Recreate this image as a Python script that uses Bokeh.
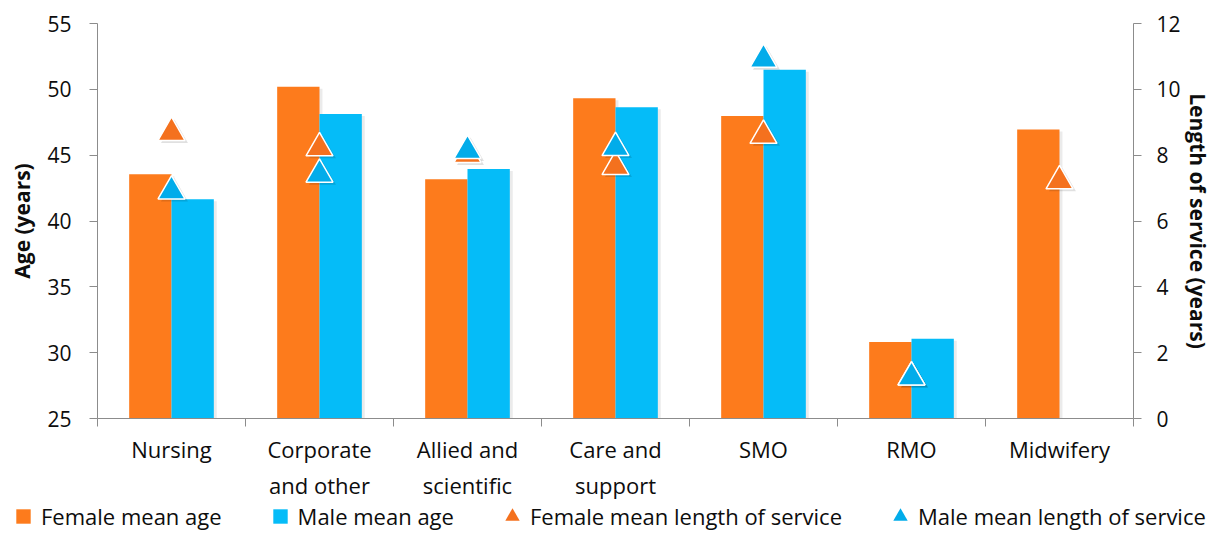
import math
from bokeh.plotting import figure
from bokeh.layouts import column
from bokeh.models import (Range1d, LinearAxis, FixedTicker, ColumnDataSource,
                          Legend, LegendItem)
from bokeh.transform import dodge
from bokeh.embed import file_html
from bokeh.resources import INLINE

nan = float("nan")

# ---------------- data ----------------
categories = ["Nursing", "Corporate\nand other", "Allied and\nscientific",
              "Care and\nsupport", "SMO", "RMO", "Midwifery"]
female_age = [43.55, 50.19, 43.18, 49.32, 47.97, 30.81, 46.94]
male_age = [41.65, 48.13, 43.95, 48.63, 51.48, 31.05, nan]
female_los = [8.80, 8.33, 8.13, 7.76, 8.71, 1.37, 7.33]
male_los = [7.02, 7.53, 8.25, 8.34, 11.02, 1.37, nan]
age_ticks = [25, 30, 35, 40, 45, 50, 55]
los_ticks = [0, 2, 4, 6, 8, 10, 12]
series_labels = ["Female mean age", "Male mean age",
                 "Female mean length of service", "Male mean length of service"]

# ---------------- styles ----------------
FONT = "Open Sans"
ORANGE = "#FD7B1C"
CYAN = "#05BCF8"
ORANGE_T = "#F4711E"
CYAN_T = "#02ACEA"
AXIS = "#8C8C8C"
TXT = "#0D0D0D"
BW = 0.286

xpos = [i + 0.5 for i in range(len(categories))]
src = ColumnDataSource(dict(x=xpos, f_age=female_age, m_age=male_age,
                            f_los=female_los, m_los=male_los))

p = figure(width=1214, height=502,
           x_range=Range1d(0, len(categories)),
           y_range=Range1d(age_ticks[0], age_ticks[-1]),
           x_axis_type=None, y_axis_type=None,
           output_backend="svg", toolbar_location=None,
           min_border_left=97, min_border_right=79,
           min_border_top=23, min_border_bottom=84,
           outline_line_color=None, frame_align=False)
p.extra_y_ranges = {"los": Range1d(los_ticks[0], los_ticks[-1])}

# shadows
p.vbar(x=dodge("x", -BW / 2 + 0.02), top=dodge("f_age", -0.15),
       bottom=age_ticks[0], width=BW, source=src,
       fill_color="black", fill_alpha=0.08, line_color=None)
p.vbar(x=dodge("x", BW / 2 + 0.02), top=dodge("m_age", -0.15),
       bottom=age_ticks[0], width=BW, source=src,
       fill_color="black", fill_alpha=0.08, line_color=None)

p.vbar(x=dodge("x", -BW / 2), top="f_age", bottom=age_ticks[0],
       width=BW, source=src, fill_color=ORANGE, line_color=None)
p.vbar(x=dodge("x", BW / 2), top="m_age", bottom=age_ticks[0],
       width=BW, source=src, fill_color=CYAN, line_color=None)

# triangle shadows
p.scatter(x=dodge("x", 0.02), y=dodge("f_los", -0.19), y_range_name="los",
          source=src, marker="triangle", size=27, fill_color="black",
          fill_alpha=0.12, line_color=None)
p.scatter(x=dodge("x", 0.02), y=dodge("m_los", -0.19), y_range_name="los",
          source=src, marker="triangle", size=27, fill_color="black",
          fill_alpha=0.12, line_color=None)

p.scatter(x="x", y=dodge("f_los", -0.114), y_range_name="los", source=src,
          marker="triangle", size=27, fill_color=ORANGE_T,
          line_color="white", line_width=1.5)
p.scatter(x="x", y=dodge("m_los", -0.114), y_range_name="los", source=src,
          marker="triangle", size=27, fill_color=CYAN_T,
          line_color="white", line_width=1.5)

# ---------------- axes ----------------
def style_axis(ax, label_size="21px"):
    ax.axis_line_color = AXIS
    ax.major_tick_line_color = AXIS
    ax.minor_tick_line_color = AXIS
    ax.major_tick_out = 8
    ax.major_tick_in = 0
    ax.minor_tick_out = 0
    ax.minor_tick_in = 0
    ax.major_label_text_font = FONT
    ax.major_label_text_font_size = label_size
    ax.major_label_text_color = TXT
    ax.axis_label_text_font = FONT
    ax.axis_label_text_font_style = "bold"
    ax.axis_label_text_font_size = "21px"
    ax.axis_label_text_color = TXT

left = LinearAxis(ticker=FixedTicker(ticks=age_ticks), axis_label="Age (years)")
style_axis(left)
left.major_label_standoff = 18
left.axis_label_standoff = 8
p.add_layout(left, "left")

right = LinearAxis(y_range_name="los", ticker=FixedTicker(ticks=los_ticks),
                   axis_label="Length of service (years)")
style_axis(right)
right.major_label_standoff = 15
right.axis_label_standoff = 0
p.add_layout(right, "right")

bottom = LinearAxis(ticker=FixedTicker(ticks=xpos,
                                       minor_ticks=list(range(len(categories) + 1))),
                    major_label_overrides={xv: c for xv, c in zip(xpos, categories)})
style_axis(bottom, "22px")
bottom.major_tick_out = 0
bottom.minor_tick_out = 8
bottom.major_label_standoff = 7
p.add_layout(bottom, "below")

# ---------------- legend strip ----------------
lg = figure(width=1214, height=28, x_axis_type=None, y_axis_type=None,
            x_range=Range1d(0, 1), y_range=Range1d(0, 1),
            output_backend="svg", toolbar_location=None,
            min_border=0, min_border_left=0, min_border_right=0,
            min_border_top=0, min_border_bottom=0,
            outline_line_color=None, frame_align=False)
l1 = lg.scatter(x=[nan], y=[nan], marker="square", fill_color=ORANGE, line_color=None)
l2 = lg.scatter(x=[nan], y=[nan], marker="square", fill_color=CYAN, line_color=None)
l3 = lg.scatter(x=[nan], y=[nan], marker="triangle", fill_color=ORANGE_T, line_color=None)
l4 = lg.scatter(x=[nan], y=[nan], marker="triangle", fill_color=CYAN_T, line_color=None)
leg = Legend(items=[LegendItem(label=series_labels[0], renderers=[l1]),
                    LegendItem(label=series_labels[1], renderers=[l2]),
                    LegendItem(label=series_labels[2], renderers=[l3]),
                    LegendItem(label=series_labels[3], renderers=[l4])],
             location=(5, -4), orientation="horizontal",
             glyph_width=36, glyph_height=36, label_standoff=0,
             spacing=40, padding=0, margin=0,
             border_line_color=None, background_fill_alpha=0,
             label_text_font=FONT, label_text_font_size="22px",
             label_text_color=TXT)
lg.add_layout(leg)

open("out.html", "w").write(file_html(column(p, lg, spacing=0), INLINE))
